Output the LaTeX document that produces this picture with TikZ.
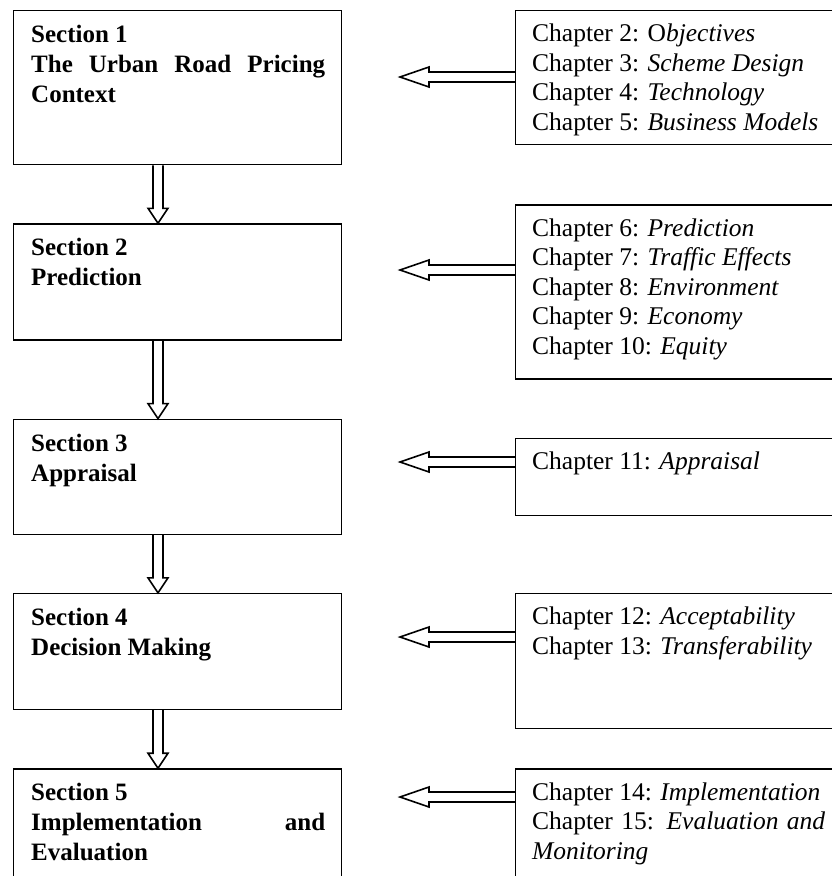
\documentclass[tikz,border=0pt]{standalone}
\usepackage{fontspec}
\setmainfont{Liberation Serif}
\usepackage{tikz}
\usetikzlibrary{positioning, calc}
\hyphenpenalty=10000
\exhyphenpenalty=10000
\tolerance=9999
\hbadness=10000

\tikzset{
  secframe/.style={draw, line width=1.3pt, inner sep=0pt, minimum width=328pt},
  chapframe/.style={draw, line width=1.3pt, inner sep=0pt, minimum width=328pt},
  sectext/.style={anchor=north west, inner xsep=18pt, inner ysep=15pt, text width=294pt,
    align=justify, font=\fontsize{25}{30}\selectfont\bfseries},
  chaptext/.style={anchor=north west, inner xsep=17pt, inner ysep=14pt, text width=293pt,
    align=justify, font=\fontsize{25.5}{29.5}\selectfont},
  fatline/.style={draw, line width=1.6pt, line join=miter},
  downfat/.style={fatline, to path={let \p1=(\tikztostart), \p2=(\tikztotarget) in
    (\x1-5,\y1) -- (\x1-5,\y2+15) -- (\x1-10,\y2+15) -- (\x1,\y2)
    -- (\x1+10,\y2+15) -- (\x1+5,\y2+15) -- (\x1+5,\y1)}},
  leftfat/.style={fatline, to path={let \p1=(\tikztostart), \p2=(\tikztotarget) in
    (\x1,\y1+5) -- (\x2+29,\y1+5) -- (\x2+29,\y1+10) -- (\x2,\y1)
    -- (\x2+29,\y1-10) -- (\x2+29,\y1-5) -- (\x1,\y1-5)}}
}

\begin{document}
\begin{tikzpicture}[x=1pt, y=-1pt]
        \clip (0,0) rectangle (832,876);

        % Section boxes
        \node[secframe, minimum height=154pt, anchor=north west] (s1) at (13,10) {};
        \node[secframe, minimum height=116pt, below=58pt of s1] (s2) {};
        \node[secframe, minimum height=115pt, below=78pt of s2] (s3) {};
        \node[secframe, minimum height=116pt, below=58pt of s3] (s4) {};
        \node[secframe, minimum height=150pt, below=58pt of s4] (s5) {};

        \node[sectext] (s1txt) at (s1.north west) {Section 1\\The Urban Road Pricing Context};
        \node[sectext] (s2txt) at (s2.north west) {Section 2\\Prediction};
        \node[sectext] (s3txt) at (s3.north west) {Section 3\\Appraisal};
        \node[sectext] (s4txt) at (s4.north west) {Section 4\\Decision Making};
        \node[sectext] (s5txt) at (s5.north west) {Section 5\\Implementation and Evaluation};

        % Chapter boxes
        \node[chapframe, minimum height=134pt, anchor=north west] (r1) at (515,10) {};
        \node[chapframe, minimum height=174pt, below=59pt of r1] (r2) {};
        \node[chapframe, minimum height=77pt, below=58pt of r2] (r3) {};
        \node[chapframe, minimum height=135pt, below=77pt of r3] (r4) {};
        \node[chapframe, minimum height=150pt, below=39pt of r4] (r5) {};

        \node[chaptext] (r1txt) at (r1.north west) {Chapter 2: O\textit{bjectives}\\
          Chapter 3: \textit{Scheme Design}\\Chapter 4: \textit{Technology}\\
          Chapter 5: \textit{Business Models}};
        \node[chaptext] (r2txt) at (r2.north west) {Chapter 6: \textit{Prediction}\\
          Chapter 7: \textit{Traffic Effects}\\Chapter 8: \textit{Environment}\\
          Chapter 9: \textit{Economy}\\Chapter 10: \textit{Equity}};
        \node[chaptext] (r3txt) at (r3.north west) {Chapter 11: \textit{Appraisal}};
        \node[chaptext] (r4txt) at (r4.north west) {Chapter 12: \textit{Acceptability}\\
          Chapter 13: \textit{Transferability}};
        \node[chaptext] (r5txt) at (r5.north west) {Chapter 14: \textit{Implementation}\\
          Chapter 15: \textit{Evaluation and Monitoring}};

        % Arrow tips between the columns
        \coordinate (t1) at (400,77);
        \coordinate (t2) at (400,270);
        \coordinate (t3) at (400,462);
        \coordinate (t4) at (400,637);
        \coordinate (t5) at (400,797);

        % Hollow arrows down the sections
        \draw[downfat] (s1.south -| 158,0) to (s2.north);
        \draw[downfat] (s2.south -| 158,0) to (s3.north);
        \draw[downfat] (s3.south -| 158,0) to (s4.north);
        \draw[downfat] (s4.south -| 158,0) to (s5.north);

        % Hollow arrows from the chapters
        \draw[leftfat] (r1.west |- t1) to (t1);
        \draw[leftfat] (r2.west |- t2) to (t2);
        \draw[leftfat] (r3.west |- t3) to (t3);
        \draw[leftfat] (r4.west |- t4) to (t4);
        \draw[leftfat] (r5.west |- t5) to (t5);
    \end{tikzpicture}
\end{document}
